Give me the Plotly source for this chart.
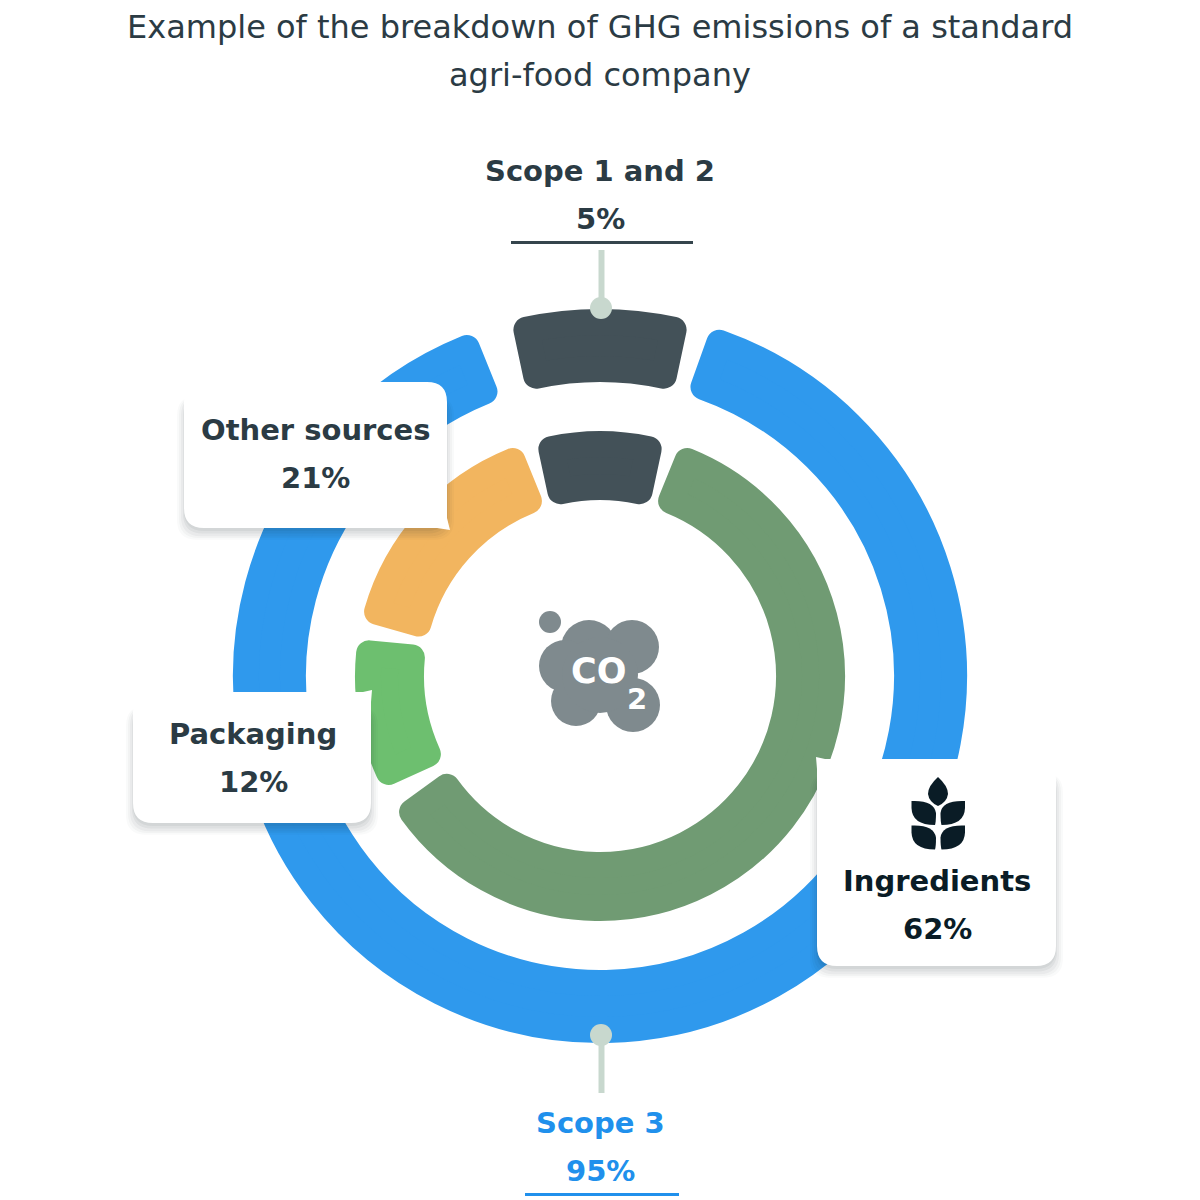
import plotly.graph_objects as go

# ---- data -------------------------------------------------------------
title_lines = ["Example of the breakdown of GHG emissions of a standard", "agri-food company"]
scope_labels = ["Scope 3", "Scope 1 and 2"]
scope_pct_text = ["95%", "5%"]
scope_arc_deg = [318.2, 24.0]        # arc sweep of each segment as drawn, degrees
scope_gap_deg = [10.1, 7.7]          # empty sweep after each segment
source_labels = ["Ingredients", "Packaging", "Other sources", "Scope 1 and 2"]
source_pct_text = ["62%", "12%", "21%", "5%"]
source_arc_deg = [212.0, 30.0, 51.8, 24.2]
source_gap_deg = [11.5, 10.5, 10.0, 10.0]

# ---- style ------------------------------------------------------------
W = H = 1200
CX, CY = 600, 676
FONT = "DejaVu Sans"
INK = "#2B3B44"
BLUE_TXT = "#2090EC"
NAVY = "#0A1C26"
BAND = "#C8D8CE"
CLOUD = "#7F8A8E"
scope_colors = ["#2F99ED", "#435158"]
source_colors = ["#709B73", "#6DBF6F", "#F2B55F", "#435158"]
CORNER = 13


def px(x):
    return x / W


def py(y):
    return 1 - y / H


def ring(labels, arcs, gaps, colors, r_out, r_in, start_deg):
    """Doughnut with rounded segments: same-colour round-joined stroke, spacer slices."""
    vals, cols, widths, labs = [], [], [], []
    for lab, a, g, c in zip(labels, arcs, gaps, colors):
        vals += [a, g]
        cols += [c, "rgba(0,0,0,0)"]
        widths += [CORNER * 2, 0]
        labs += [lab, "gap " + lab]
    R = r_out - CORNER
    r = r_in + CORNER
    return go.Pie(
        labels=labs, values=vals, sort=False, direction="clockwise",
        rotation=start_deg, hole=r / R,
        marker=dict(colors=cols, line=dict(color=cols, width=widths)),
        textinfo="none", hoverinfo="skip", showlegend=False,
        domain=dict(x=[px(CX - R), px(CX + R)], y=[py(CY + R), py(CY - R)]),
    )


def rounded(x0, y0, x1, y1, r, tail=None):
    p = [f"M{px(x0 + r)},{py(y0)}"]
    if tail == "tr":
        p += [f"L{px(x1 - 8)},{py(y0)}", f"L{px(x1 + 1)},{py(y0 - 2)}",
              f"L{px(x1)},{py(y0 + 10)}"]
    else:
        p += [f"L{px(x1 - r)},{py(y0)}", f"Q{px(x1)},{py(y0)} {px(x1)},{py(y0 + r)}"]
    if tail == "br":
        p += [f"L{px(x1)},{py(y1 - 10)}", f"L{px(x1 + 3)},{py(y1 + 2)}",
              f"L{px(x1 - 10)},{py(y1)}"]
    else:
        p += [f"L{px(x1)},{py(y1 - r)}", f"Q{px(x1)},{py(y1)} {px(x1 - r)},{py(y1)}"]
    p += [f"L{px(x0 + r)},{py(y1)}", f"Q{px(x0)},{py(y1)} {px(x0)},{py(y1 - r)}"]
    if tail == "tl":
        p += [f"L{px(x0)},{py(y0 + 10)}", f"L{px(x0 - 1)},{py(y0 - 2)}",
              f"L{px(x0 + 8)},{py(y0)}"]
    else:
        p += [f"L{px(x0)},{py(y0 + r)}", f"Q{px(x0)},{py(y0)} {px(x0 + r)},{py(y0)}"]
    return "".join(p) + "Z"


shapes = []


def card(x0, y0, x1, y1, tail):
    for grow, dy, a in [(7, 9, .022), (5, 8, .03), (3, 7, .04), (1, 5, .05), (0, 3, .05)]:
        shapes.append(dict(type="path", xref="paper", yref="paper", layer="above",
                           path=rounded(x0 - grow, y0 + 14, x1 + grow, y1 + dy + grow * .4, 20),
                           fillcolor=f"rgba(20,30,40,{a})", line_width=0))
    shapes.append(dict(type="path", xref="paper", yref="paper", layer="above",
                       path=rounded(x0, y0, x1, y1, 20, tail),
                       fillcolor="white", line_width=0))


def circle(x, y, r, color):
    shapes.append(dict(type="circle", xref="paper", yref="paper", layer="above",
                       x0=px(x - r), x1=px(x + r), y0=py(y + r), y1=py(y - r),
                       fillcolor=color, line_width=0))


def seg(x0, y0, x1, y1, color, w):
    shapes.append(dict(type="line", xref="paper", yref="paper", layer="above",
                       x0=px(x0), x1=px(x1), y0=py(y0), y1=py(y1),
                       line=dict(color=color, width=w)))


def curve(points, color):
    d = f"M{px(points[0][0])},{py(points[0][1])}"
    for c, e in points[1:]:
        d += f"Q{px(c[0])},{py(c[1])} {px(e[0])},{py(e[1])}"
    shapes.append(dict(type="path", xref="paper", yref="paper", layer="above",
                       path=d + "Z", fillcolor=color, line_width=0))


# leader lines, underlines
seg(601.5, 250, 601.5, 308, BAND, 6)
circle(601, 308, 11, BAND)
seg(601.5, 1035, 601.5, 1093, BAND, 6)
circle(601, 1035, 11, BAND)
seg(511, 242.5, 693, 242.5, "#35454D", 3)
seg(525, 1194.5, 679, 1194.5, BLUE_TXT, 3)

# cards
card(184, 382, 447, 528, "br")
card(133, 692, 371, 823, "tr")
card(817, 759, 1056, 966, "tl")

# CO2 cloud
circle(550, 622, 11, CLOUD)
for x, y, r in [(589, 648, 28), (632, 647, 27), (565, 666, 26), (576, 701, 25),
                (633, 705, 27), (600, 675, 38)]:
    circle(x, y, r, CLOUD)

# wheat icon
curve([(938, 777), ((928, 786), (928, 794)), ((929, 802), (938, 806)),
       ((947, 802), (948, 794)), ((948, 786), (938, 777))], NAVY)
for dy in (0, 24.5):
    curve([(911.5, 801 + dy), ((934, 800 + dy), (936, 813 + dy)), ((936, 822 + dy), (935, 825 + dy)),
           ((912, 825 + dy), (911.5, 808 + dy))], NAVY)
    curve([(965, 801 + dy), ((942, 800 + dy), (940.5, 813 + dy)), ((940.5, 822 + dy), (941.5, 825 + dy)),
           ((964.5, 825 + dy), (965, 808 + dy))], NAVY)


def text(s, x, y, size, color, bold=True):
    return dict(text=s, x=px(x), y=py(y), xref="paper", yref="paper", showarrow=False,
                xanchor="center", yanchor="middle",
                font=dict(family=FONT, size=size, color=color, weight=700 if bold else 400))


TITLE_SIZE = 32
LABEL_SIZE = 29
annotations = [
    text(title_lines[0], 600, 27, TITLE_SIZE, INK, bold=False),
    text(title_lines[1], 600, 75, TITLE_SIZE, INK, bold=False),
    text(scope_labels[1], 600, 171, LABEL_SIZE, INK),
    text(scope_pct_text[1], 600, 219, LABEL_SIZE, INK),
    text(scope_labels[0], 600, 1123, LABEL_SIZE, BLUE_TXT),
    text(scope_pct_text[0], 600, 1171, LABEL_SIZE, BLUE_TXT),
    text(source_labels[2], 315, 430, LABEL_SIZE, INK),
    text(source_pct_text[2], 315, 478, LABEL_SIZE, INK),
    text(source_labels[1], 253, 734, LABEL_SIZE, INK),
    text(source_pct_text[1], 253, 782, LABEL_SIZE, INK),
    text(source_labels[0], 937, 881, LABEL_SIZE, NAVY),
    text(source_pct_text[0], 937, 929, LABEL_SIZE, NAVY),
    text("CO", 598, 671, 35, "white"),
    text("2", 637, 699, 29, "white"),
]

fig = go.Figure([
    ring(scope_labels, scope_arc_deg, scope_gap_deg, scope_colors, 367, 294, 19.7),
    ring(source_labels, source_arc_deg, source_gap_deg, source_colors, 245, 176, 22.1),
])
fig.update_layout(width=W, height=H, margin=dict(l=0, r=0, t=0, b=0),
                  paper_bgcolor="white", shapes=shapes, annotations=annotations,
                  showlegend=False)
fig.write_html("out.html", config=dict(displayModeBar=False),
               post_script="document.body.style.margin='0';")
